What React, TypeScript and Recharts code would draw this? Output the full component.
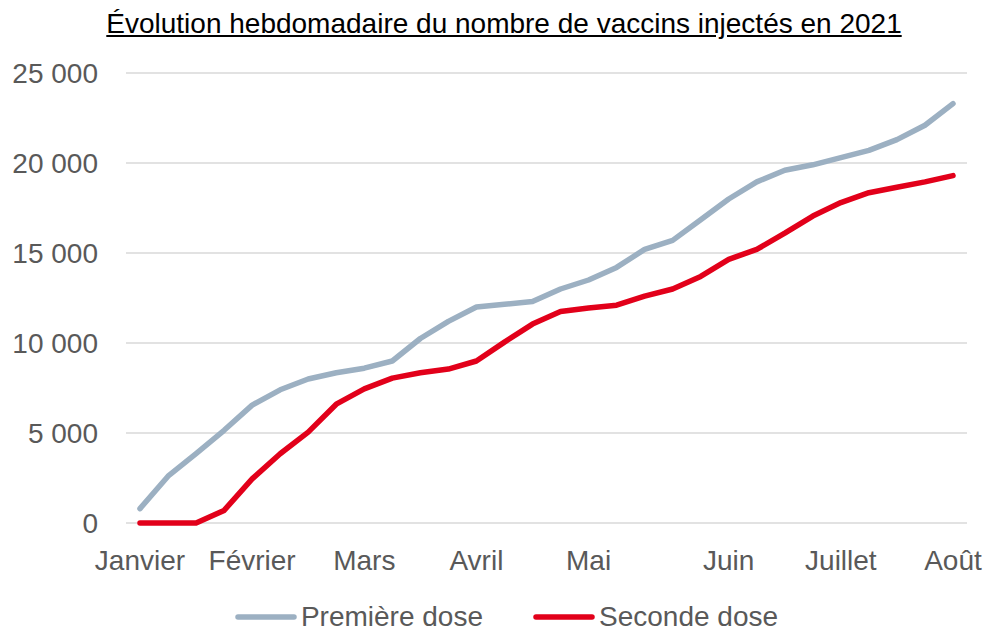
import React from 'react';
import { LineChart, Line, XAxis, YAxis, CartesianGrid, Legend } from 'recharts';

// 30 semaines, étiquette de mois sur certaines seulement
const weekLabels = [
  'Janvier', '', '', '', 'Février', '', '', '', 'Mars', '', '', '', 'Avril', '', '', '',
  'Mai', '', '', '', '', 'Juin', '', '', '', 'Juillet', '', '', '', 'Août',
];

const premiereDose = [
  800, 2600, 3850, 5150, 6550, 7400, 8000, 8350, 8600, 9000, 10250, 11200, 12000, 12150, 12300,
  13000, 13500, 14200, 15200, 15700, 16850, 18000, 18950, 19600, 19900, 20300, 20700, 21300, 22100, 23300,
];

const secondeDose = [
  0, 0, 0, 700, 2450, 3850, 5050, 6600, 7450, 8050, 8350, 8550, 9000, 10050, 11050,
  11750, 11950, 12100, 12600, 13000, 13700, 14650, 15200, 16100, 17050, 17800, 18350, 18650, 18950, 19300,
];

const yTicks = [0, 5000, 10000, 15000, 20000, 25000];

const data = weekLabels.map((label, i) => ({
  week: i,
  label,
  premiere: premiereDose[i],
  seconde: secondeDose[i],
}));

const FONT = "'Liberation Sans', Arial, Helvetica, sans-serif";
const GRAY = '#9cb0c2';
const RED = '#e2001a';
const TEXT = '#595959';

const fmt = (v: number) => String(v).replace(/\B(?=(\d{3})+(?!\d))/g, ' ');

const LegendContent = (props: any) => {
  const payload = props.payload || [];
  return (
    <div
      style={{
        height: 61,
        display: 'flex',
        justifyContent: 'center',
        alignItems: 'flex-end',
        paddingLeft: 46,
        paddingBottom: 2,
        boxSizing: 'border-box',
        fontFamily: FONT,
        fontSize: 28,
        lineHeight: '30px',
        color: TEXT,
      }}
    >
      {payload.map((entry: any) => (
        <div key={entry.value} style={{ display: 'flex', alignItems: 'center', margin: '0 25px' }}>
          <svg width={62} height={8} style={{ marginRight: 4 }}>
            <line x1={3} y1={4} x2={59} y2={4} stroke={entry.color} strokeWidth={5.5} strokeLinecap="round" />
          </svg>
          <span>{entry.value}</span>
        </div>
      ))}
    </div>
  );
};

export default function App() {
  return (
    <div style={{ position: 'absolute', left: 0, top: 0, width: 986, height: 634, background: '#fff' }}>
      <div
        style={{
          position: 'absolute',
          top: 8,
          left: 0,
          width: 986,
          textAlign: 'center',
          fontFamily: FONT,
          fontSize: 28,
          lineHeight: '32px',
          color: '#000',
          textDecoration: 'underline',
          paddingLeft: 22,
          boxSizing: 'border-box',
        }}
      >
        Évolution hebdomadaire du nombre de vaccins injectés en 2021
      </div>
      <LineChart
        width={986}
        height={634}
        data={data}
        margin={{ top: 73, right: 19, left: 0, bottom: 0 }}
        style={{ fontFamily: FONT }}
      >
        <CartesianGrid vertical={false} stroke="#d9d9d9" strokeWidth={1.5} />
        <XAxis
          dataKey="week"
          type="category"
          interval={0}
          padding={{ left: 14, right: 14 }}
          tickFormatter={(v: number) => weekLabels[v]}
          tickLine={false}
          axisLine={false}
          tick={{ fill: TEXT, fontSize: 28 }}
          tickMargin={21}
          height={50}
        />
        <YAxis
          domain={[0, 25000]}
          ticks={yTicks}
          tickFormatter={fmt}
          tickLine={false}
          axisLine={false}
          tick={{ fill: TEXT, fontSize: 28 }}
          tickMargin={22}
          width={126}
        />
        <Legend verticalAlign="bottom" content={<LegendContent />} />
        <Line
          type="linear"
          dataKey="premiere"
          name="Première dose"
          stroke={GRAY}
          strokeWidth={5.5}
          strokeLinecap="round"
          strokeLinejoin="round"
          dot={false}
          isAnimationActive={false}
        />
        <Line
          type="linear"
          dataKey="seconde"
          name="Seconde dose"
          stroke={RED}
          strokeWidth={5.5}
          strokeLinecap="round"
          strokeLinejoin="round"
          dot={false}
          isAnimationActive={false}
        />
      </LineChart>
    </div>
  );
}
